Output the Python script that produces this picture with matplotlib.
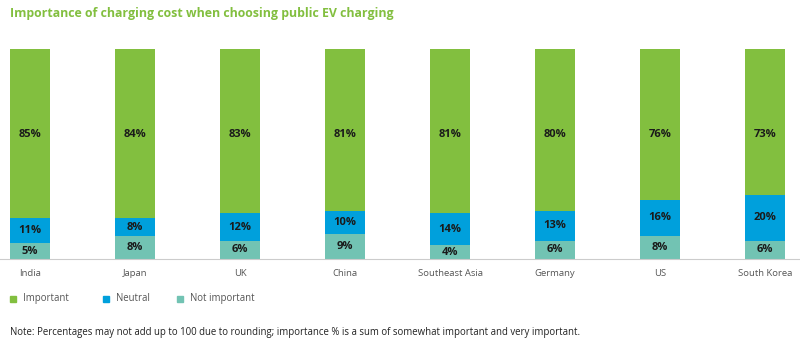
import numpy as np
import matplotlib
matplotlib.use("Agg")
from matplotlib import pyplot as plt
from matplotlib.patches import Rectangle

plt.rcParams["font.family"] = ["Open Sans", "DejaVu Sans"]

countries = ["India", "Japan", "UK", "China", "Southeast Asia", "Germany", "US", "South Korea"]
not_important = [5, 8, 6, 9, 4, 6, 8, 6]
neutral = [11, 8, 12, 10, 14, 13, 16, 20]
important = [85, 84, 83, 81, 81, 80, 76, 73]

series_names = ["Important", "Neutral", "Not important"]
colors = {"Important": "#82BF3F", "Neutral": "#00A0DC", "Not important": "#72C3B3"}

fig = plt.figure(figsize=(8, 3.41), dpi=100)
ax = fig.add_axes([0, 1 - 259 / 341, 1, 210 / 341])

# the source chart's scale runs a little below zero and cuts the green bars at the top
y_floor, y_top = -2, 90

x = np.arange(len(countries))
ni = np.array(not_important, dtype=float)
ne = np.array(neutral, dtype=float)
im = np.array(important, dtype=float)

w = 0.38
ax.bar(x, ni - y_floor, width=w, bottom=y_floor, color=colors["Not important"])
ax.bar(x, ne, width=w, bottom=ni, color=colors["Neutral"])
ax.bar(x, im, width=w, bottom=ni + ne, color=colors["Important"])

lbl = dict(ha="center", va="center", fontsize=8, fontweight="bold", color="#1a1a1a")
for i in range(len(countries)):
    ax.text(x[i], (y_floor + ni[i]) / 2, f"{not_important[i]}%", **lbl)
    ax.text(x[i], ni[i] + ne[i] / 2, f"{neutral[i]}%", **lbl)
    ax.text(x[i], 52.5, f"{important[i]}%", **lbl)

ax.set_xlim(-30 / 105, -30 / 105 + 800 / 105)
ax.set_ylim(y_floor, y_top)
for s in ["top", "right", "left"]:
    ax.spines[s].set_visible(False)
ax.spines["bottom"].set_color("#cccccc")
ax.spines["bottom"].set_linewidth(0.8)
ax.set_yticks([])
ax.set_xticks(x)
ax.set_xticklabels(countries, fontsize=6.8, color="#555555")
ax.tick_params(axis="x", length=0, pad=7)

fig.text(10 / 800, 1 - 14 / 341, "Importance of charging cost when choosing public EV charging",
         fontsize=8.9, fontweight="bold", color="#82BF3F", va="center", ha="left")

# legend
leg_x = [10, 103, 177]
for lx, name in zip(leg_x, series_names):
    fig.patches.append(Rectangle((lx / 800, 1 - 302 / 341), 6 / 800, 6 / 341,
                                 transform=fig.transFigure, color=colors[name]))
    fig.text((lx + 13) / 800, 1 - 298.5 / 341, name, fontsize=6.9, color="#555555",
             va="center", ha="left")

fig.text(10 / 800, 1 - 333 / 341,
         "Note: Percentages may not add up to 100 due to rounding; importance % is a sum of somewhat important and very important.",
         fontsize=6.9, color="#222222", va="center", ha="left")

fig.savefig("out.png", dpi=100)
